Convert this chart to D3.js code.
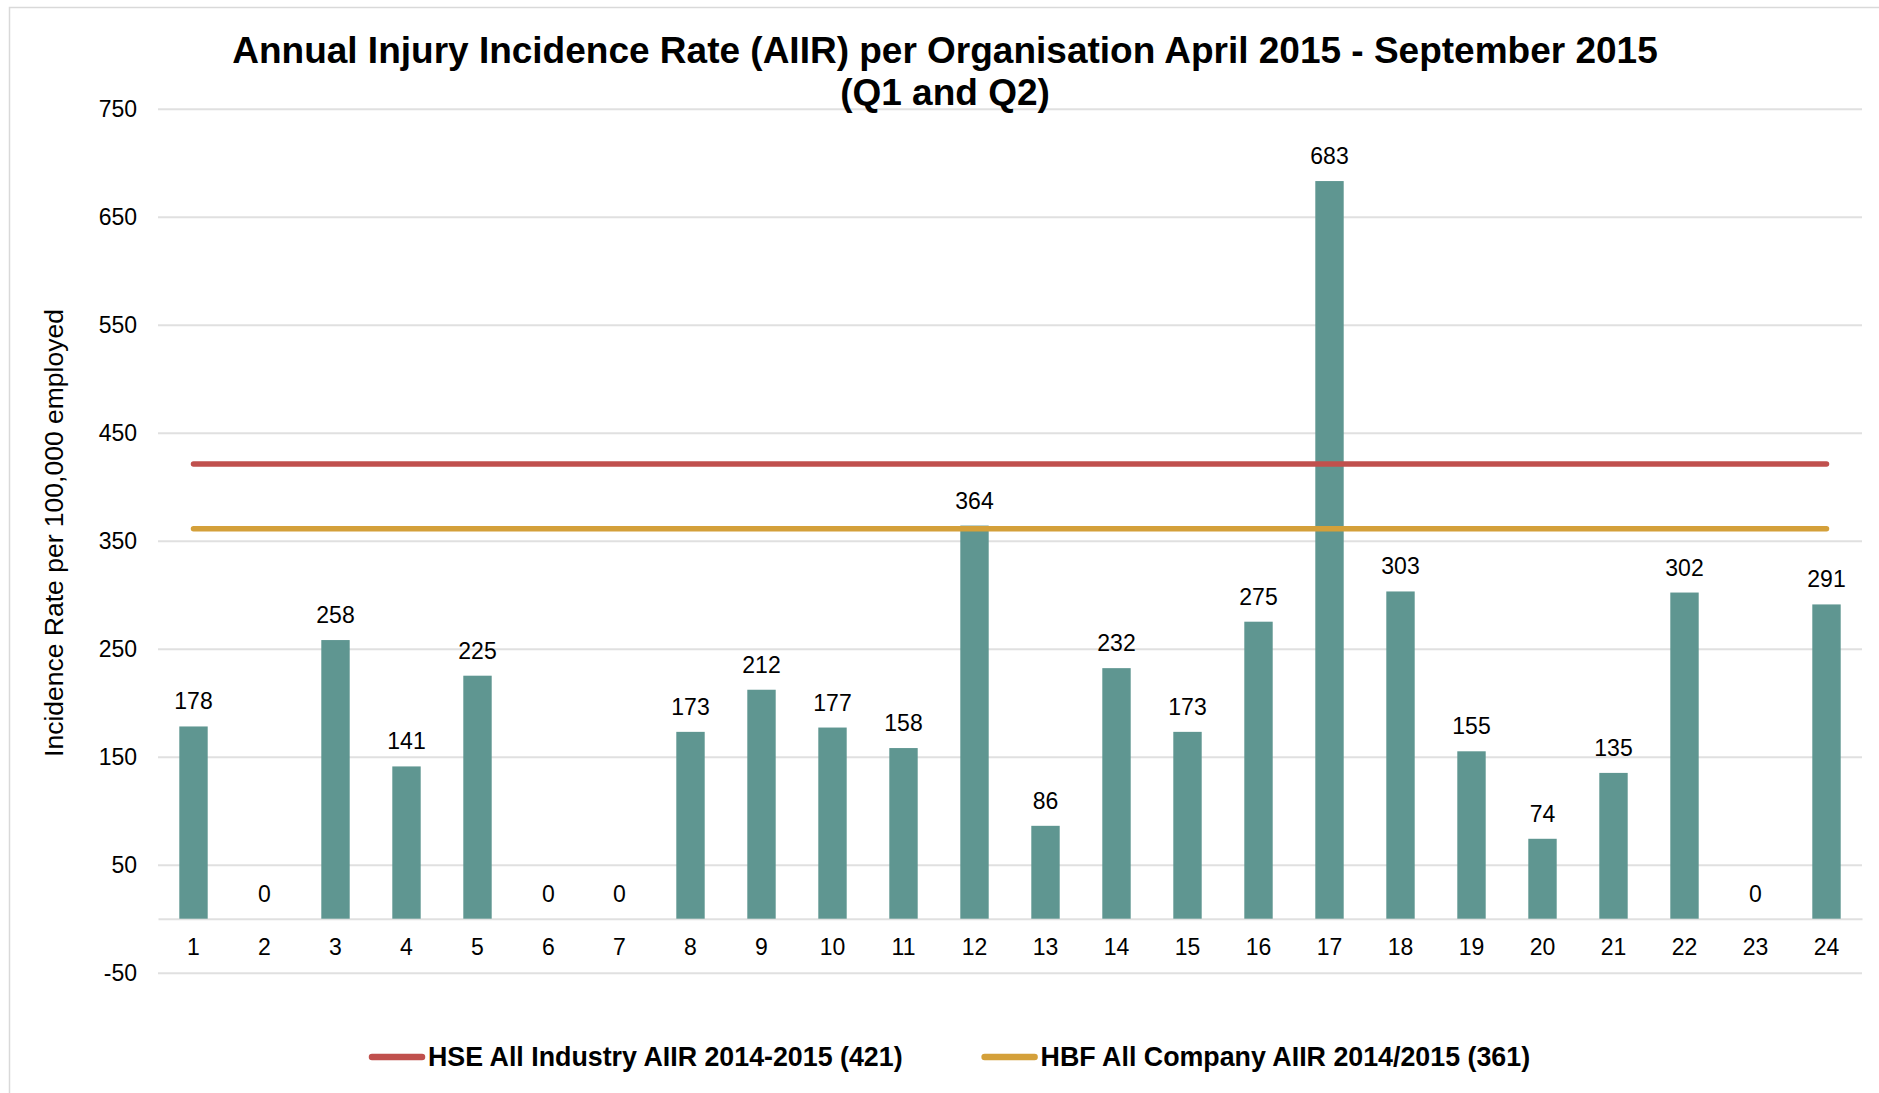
<!DOCTYPE html>
<html>
<head>
<meta charset="utf-8">
<script src="https://cdn.jsdelivr.net/npm/d3@7"></script>
<style>
  body { margin: 0; background: #fff; }
  text { font-family: "Liberation Sans", Arial, sans-serif; fill: #000; }
</style>
</head>
<body>
<div id="chart"></div>
<script>
// organisations 1..24 and their AIIR
const organisations = d3.range(1, 25).map(String);
const aiir = [178, 0, 258, 141, 225, 0, 0, 173, 212, 177, 158, 364, 86, 232, 173, 275, 683, 303, 155, 74, 135, 302, 0, 291];

// benchmark lines
const benchmarks = ["HSE All Industry AIIR 2014-2015 (421)", "HBF All Company AIIR 2014/2015 (361)"];
const benchmarkValues = [421, 361];
const benchmarkColors = ["#C0504D", "#D4A03A"];

const yTicks = [-50, 50, 150, 250, 350, 450, 550, 650, 750];
const titleLines = ["Annual Injury Incidence Rate (AIIR) per Organisation April 2015 - September 2015", "(Q1 and Q2)"];
const yTitle = "Incidence Rate per 100,000 employed";

const W = 1879, H = 1093;
const plotLeft = 158, plotRight = 1862, plotTop = 108.7, plotBottom = 972.7;

let svg = d3.select("#chart").append("svg")
    .attr("width", W)
    .attr("height", H);

// chart frame
svg.append("rect")
    .attr("x", 9.5).attr("y", 7.5)
    .attr("width", W).attr("height", H)
    .attr("fill", "#fff")
    .attr("stroke", "#D9D9D9")
    .attr("stroke-width", 1.5);

let x = d3.scaleBand()
    .domain(organisations)
    .range([plotLeft, plotRight])
    .paddingInner(0.6)
    .paddingOuter(0.3);

let y = d3.scaleLinear()
    .domain([-50, 750])
    .range([plotBottom, plotTop]);

// gridlines + value labels (plain hyphen for negatives, like Excel)
let yAxis = svg.append("g")
    .attr("transform", `translate(${plotLeft},0)`)
    .call(d3.axisLeft(y).tickValues(yTicks).tickFormat(d => String(d))
        .tickSize(-(plotRight - plotLeft)).tickPadding(21));
yAxis.select(".domain").remove();
yAxis.selectAll(".tick line").attr("stroke", "#E0E0E0").attr("stroke-width", 2);
yAxis.selectAll(".tick text")
    .style("font-family", '"Liberation Sans", Arial, sans-serif')
    .style("font-size", "23px")
    .attr("fill", "#000");

// category axis at zero
let xAxis = svg.append("g")
    .attr("transform", `translate(0,${y(0)})`)
    .call(d3.axisBottom(x).tickSize(0).tickPadding(20));
xAxis.select(".domain").attr("stroke", "#E0E0E0").attr("stroke-width", 2);
xAxis.selectAll(".tick text")
    .style("font-family", '"Liberation Sans", Arial, sans-serif')
    .style("font-size", "23px")
    .attr("fill", "#000");

// bars
svg.append("g").selectAll("rect")
    .data(aiir)
    .enter().append("rect")
    .attr("x", (d, i) => x(organisations[i]))
    .attr("width", x.bandwidth())
    .attr("y", d => y(d))
    .attr("height", d => y(0) - y(d))
    .attr("fill", "#5F9691");

svg.append("g").selectAll("text")
    .data(aiir)
    .enter().append("text")
    .attr("x", (d, i) => x(organisations[i]) + x.bandwidth() / 2)
    .attr("y", d => y(d) - 17)
    .attr("text-anchor", "middle")
    .style("font-size", "23px")
    .text(d => d);

// benchmark lines across all organisations
benchmarkValues.forEach(function(v, k) {
    svg.append("line")
        .attr("x1", x(organisations[0]) + x.bandwidth() / 2)
        .attr("x2", x(organisations[organisations.length - 1]) + x.bandwidth() / 2)
        .attr("y1", y(v)).attr("y2", y(v))
        .attr("stroke", benchmarkColors[k])
        .attr("stroke-width", 5.5)
        .attr("stroke-linecap", "round");
});

// title
svg.append("text")
    .attr("x", 945)
    .attr("text-anchor", "middle")
    .style("font-size", "37px")
    .style("font-weight", "bold")
    .selectAll("tspan")
    .data(titleLines)
    .enter().append("tspan")
    .attr("x", 945)
    .attr("y", (d, i) => 63 + i * 42)
    .text(d => d);

// y axis title
svg.append("text")
    .attr("transform", "translate(63,533) rotate(-90)")
    .attr("text-anchor", "middle")
    .style("font-size", "26.5px")
    .text(yTitle);

// legend
let legend = svg.append("g").attr("transform", "translate(369,1057)");
let lx = 0;
benchmarks.forEach(function(name, k) {
    let g = legend.append("g").attr("transform", `translate(${lx},0)`);
    g.append("line")
        .attr("x1", 3).attr("x2", 53)
        .attr("stroke", benchmarkColors[k])
        .attr("stroke-width", 6.5)
        .attr("stroke-linecap", "round");
    let t = g.append("text")
        .attr("x", 59)
        .attr("y", 9)
        .style("font-size", "26.8px")
        .style("font-weight", "bold")
        .text(name);
    lx += 59 + t.node().getComputedTextLength() + 79;
});
</script>
</body>
</html>
